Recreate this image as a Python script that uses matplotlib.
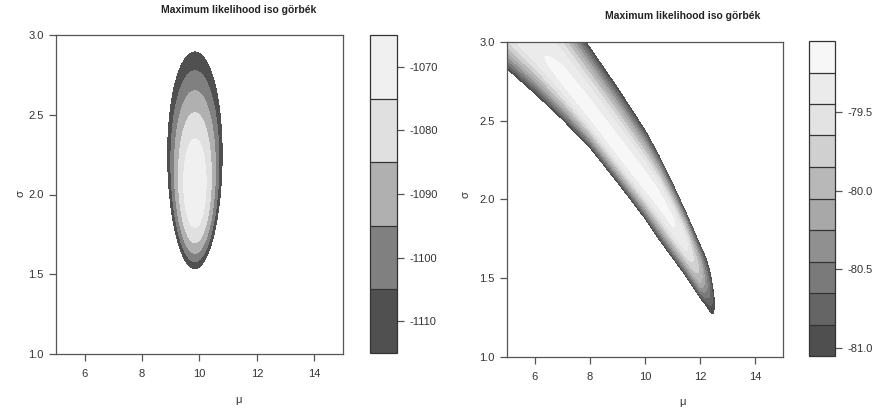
import numpy as np
import matplotlib
matplotlib.use("Agg")
import matplotlib.pyplot as plt
from matplotlib.colors import ListedColormap, BoundaryNorm

plt.rcParams['font.family'] = ['Liberation Sans', 'DejaVu Sans']

# ---------------- data ----------------
title_text = "Maximum likelihood iso görbék"
x_label = "μ"
y_label = "σ"

# Left panel: normal log-likelihood surface (summary values)
left_n = 500
left_mean = 9.84
left_sd = 2.04
left_levels = [-1115, -1105, -1095, -1085, -1075, -1065]
left_colors = ['#505050', '#808080', '#b0b0b0', '#e0e0e0', '#f0f0f0']
left_cb_ticks = [-1110, -1100, -1090, -1080, -1070]

# Right panel: curved ridge
ridge_mu = [5.0, 6.0, 7.0, 8.0, 9.0, 10.0, 10.5, 11.0, 11.5, 12.0, 12.2, 12.3, 12.4, 12.47, 12.53]
ridge_lo = [2.83, 2.675, 2.51, 2.33, 2.11, 1.88, 1.75, 1.63, 1.51, 1.375, 1.33, 1.305, 1.248, 1.21, 1.20]
ridge_c = [3.13, 2.97, 2.78, 2.56, 2.33, 2.11, 2.00, 1.86, 1.71, 1.53, 1.47, 1.44, 1.39, 1.35, 1.33]
ridge_hi = [3.70, 3.45, 3.22, 2.965, 2.71, 2.44, 2.28, 2.10, 1.91, 1.71, 1.63, 1.575, 1.532, 1.487, 1.46]
ridge_peak = [-79.36, -79.28, -79.2, -79.18, -79.17, -79.17, -79.18, -79.22, -79.4, -79.9,
              -80.35, -80.55, -80.75, -80.92, -81.1]
right_levels = [-81.05, -80.85, -80.65, -80.45, -80.25, -80.05, -79.85, -79.65, -79.45, -79.25, -79.05]
right_colors = ['#4f4f4f', '#656565', '#7a7a7a', '#909090', '#a8a8a8',
                '#b8b8b8', '#d0d0d0', '#e3e3e3', '#ebebeb', '#f7f7f7']
right_cb_ticks = [-81.0, -80.5, -80.0, -79.5]

x_ticks = [6, 8, 10, 12, 14]
y_ticks = [1.0, 1.5, 2.0, 2.5, 3.0]

# ---------------- surfaces ----------------
mu = np.linspace(5, 15, 400)
sg = np.linspace(1, 3, 400)
M, S = np.meshgrid(mu, sg)

Zl = (-left_n * np.log(S) - left_n * (left_sd**2 + (left_mean - M)**2) / (2 * S**2)
      - left_n / 2 * np.log(2 * np.pi))

lo = np.interp(M, ridge_mu, ridge_lo)
c = np.interp(M, ridge_mu, ridge_c)
hi = np.interp(M, ridge_mu, ridge_hi)
pk = np.interp(M, ridge_mu, ridge_peak, right=-82.0)
d = np.where(S < c, (c - S) / (c - lo), (S - c) / (hi - c))
amp = np.maximum(pk - right_levels[0], 0.5)
Zr = pk - amp * d**2

# ---------------- figure ----------------
W, H = 878, 409
fig = plt.figure(figsize=(W / 100, H / 100), dpi=100)

def px_axes(x0, y0, x1, y1):
    return fig.add_axes([x0 / W, 1 - y1 / H, (x1 - x0) / W, (y1 - y0) / H])

spine_col = '#555555'
txt_col = '#333333'
fs = 8

def style_axes(ax):
    for s in ax.spines.values():
        s.set_color(spine_col)
        s.set_linewidth(0.9)
    ax.tick_params(direction='out', length=5, width=0.9, color=spine_col,
                   labelsize=fs, labelcolor=txt_col)
    ax.tick_params(axis='x', pad=6)
    ax.tick_params(axis='y', pad=4)

def draw_panel(ax, cax, Z, levels, colors, cb_ticks, fmt):
    cmap = ListedColormap(colors)
    norm = BoundaryNorm(levels, cmap.N)
    cs = ax.contourf(M, S, Z, levels=levels, cmap=cmap, norm=norm)
    ax.set_xlim(5, 15)
    ax.set_ylim(1, 3)
    ax.set_xticks(x_ticks)
    ax.set_yticks(y_ticks)
    ax.set_yticklabels([f"{v:.1f}" for v in y_ticks])
    style_axes(ax)
    cb = fig.colorbar(cs, cax=cax, drawedges=True)
    cb.outline.set_edgecolor('#333333')
    cb.outline.set_linewidth(0.9)
    cb.dividers.set_color('#333333')
    cb.dividers.set_linewidth(0.9)
    cb.set_ticks(cb_ticks)
    cb.set_ticklabels([fmt.format(v) for v in cb_ticks])
    cax.minorticks_off()
    cax.tick_params(which='both', direction='out', length=5, width=0.9, color=spine_col,
                    labelsize=fs, labelcolor=txt_col, pad=4)
    return cs

ax1 = px_axes(56, 35, 343, 354)
cax1 = px_axes(370, 35, 397, 353)
draw_panel(ax1, cax1, Zl, left_levels, left_colors, left_cb_ticks, "{:.0f}")

ax2 = px_axes(507, 42, 783, 357)
cax2 = px_axes(809, 41, 835, 356)
draw_panel(ax2, cax2, Zr, right_levels, right_colors, right_cb_ticks, "{:.1f}")

# titles and axis labels
fig.text(239 / W, 1 - 10 / H, title_text, ha='center', va='center',
         fontsize=7.5, fontweight='bold', color='#222222')
fig.text(683 / W, 1 - 16 / H, title_text, ha='center', va='center',
         fontsize=7.5, fontweight='bold', color='#222222')
fig.text(239 / W, 1 - 400 / H, x_label, ha='center', va='center', fontsize=fs, color=txt_col)
fig.text(683 / W, 1 - 402 / H, x_label, ha='center', va='center', fontsize=fs, color=txt_col)
fig.text(20 / W, 1 - 194 / H, y_label, ha='center', va='center', fontsize=fs,
         color=txt_col, rotation=90)
fig.text(466 / W, 1 - 195 / H, y_label, ha='center', va='center', fontsize=fs,
         color=txt_col, rotation=90)

fig.savefig("out.png", dpi=100, facecolor='white')
